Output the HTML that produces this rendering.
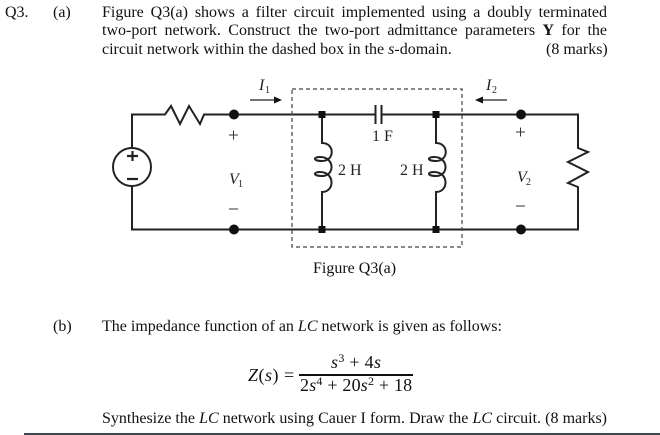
<!DOCTYPE html>
<html><head><meta charset="utf-8"><style>
html,body{margin:0;padding:0;background:#fff}
#p{position:relative;width:660px;height:435px;overflow:hidden;font-family:"Liberation Serif",serif;font-size:16px;color:#111}
.t{position:absolute;white-space:nowrap;line-height:18px}
.j{position:absolute;left:102px;width:505px;line-height:18px;text-align:justify;text-align-last:justify}
.m{font-size:18px;line-height:20px}
.m sup{font-size:12px;line-height:0;vertical-align:6px}
svg{position:absolute;left:0;top:0}
svg text{font-family:"Liberation Serif",serif;fill:#222}
</style></head><body><div id="p">
<div class="t" style="left:5px;top:4px">Q3.</div>
<div class="t" style="left:53px;top:4px">(a)</div>
<div class="j" style="top:4px">Figure Q3(a) shows a filter circuit implemented using a doubly terminated</div>
<div class="j" style="top:22px">two-port network. Construct the two-port admittance parameters <b>Y</b> for the</div>
<div class="t" style="left:102px;top:41px">circuit network within the dashed box in the <i>s</i>-domain.</div>
<div class="t" style="left:546px;top:41px">(8 marks)</div>
<svg width="660" height="435" viewBox="0 0 660 435">
<g fill="none" stroke="#222" stroke-width="2">
<path d="M132 148V114.500H165L171 106 180 124 189 106 200 124 204 114.500H375"/>
<path d="M382 114.500H578V148L588 152 568 162 588 172 568 183 578 187V229.500H132V186"/>
<circle cx="132" cy="167" r="19"/>
<path d="M375.500 105V124M381.500 105V124"/>
<path d="M322 114.500V143C335 143 335 161 322 161C313 161 313 157 320 157C335 157 335 176 322 176C313 176 313 172 320 172C335 172 335 192 322 192V229.500"/>
<path d="M436 114.500V143C449 143 449 161 436 161C427 161 427 157 434 157C449 157 449 176 436 176C427 176 427 172 434 172C449 172 449 192 436 192V229.500"/>
</g>
<path d="M127 156H138M132.500 151V161M127 179H138" stroke="#222" stroke-width="2.200" fill="none"/>
<rect x="292" y="89" width="170" height="158" fill="none" stroke="#444" stroke-width="1.2" stroke-dasharray="4 3"/>
<g fill="#111">
<circle cx="234" cy="114.500" r="5"/><circle cx="234" cy="229.500" r="5"/>
<circle cx="521" cy="114.500" r="5"/><circle cx="521" cy="229.500" r="5"/>
<rect x="318.500" y="111" width="7" height="7"/><rect x="318.500" y="226" width="7" height="7"/>
<rect x="432.500" y="111" width="7" height="7"/><rect x="432.500" y="226" width="7" height="7"/>
<path d="M282 100L274 96.500V103.500ZM475 100L483 96.500V103.500Z"/>
</g>
<path d="M250 100H276M481 100H507" stroke="#222" stroke-width="1.2"/>
<path d="M229 135H238M233.500 130.500V139.500M229 209H238M516 132H525M520.500 127.500V136.500M516 206H525" stroke="#333" stroke-width="1"/>
<g font-size="16">
<text x="259" y="90" font-style="italic">I</text><text x="265" y="93" font-size="10">1</text>
<text x="486" y="90" font-style="italic">I</text><text x="492" y="93" font-size="10">2</text>
<text x="229" y="184" font-style="italic">V</text><text x="238" y="187" font-size="10">1</text>
<text x="517" y="182" font-style="italic">V</text><text x="526" y="185" font-size="10">2</text>
<text x="372" y="141">1 F</text>
<text x="338" y="175">2 H</text>
<text x="400" y="175">2 H</text>
</g>
</svg>
<div class="t" style="left:313px;top:260px">Figure Q3(a)</div>
<div class="t" style="left:53px;top:318px">(b)</div>
<div class="t" style="left:102px;top:318px">The impedance function of an <i>LC</i> network is given as follows:</div>
<div class="t m" style="left:248px;top:365px;letter-spacing:.5px"><i>Z</i>(<i>s</i>) =</div>
<div class="t m" style="left:331px;top:352px;letter-spacing:.3px"><i>s</i><sup>3</sup> + 4<i>s</i></div>
<div style="position:absolute;left:299px;top:374px;width:114px;height:2px;background:#111"></div>
<div class="t m" style="left:300px;top:375px;letter-spacing:.2px">2<i>s</i><sup>4</sup> + 20<i>s</i><sup>2</sup> + 18</div>
<div class="j" style="top:410px">Synthesize the <i>LC</i> network using Cauer I form. Draw the <i>LC</i> circuit. (8 marks)</div>
<div style="position:absolute;left:24px;top:433px;width:636px;height:2px;background:#3d4650"></div>
</div></body></html>
